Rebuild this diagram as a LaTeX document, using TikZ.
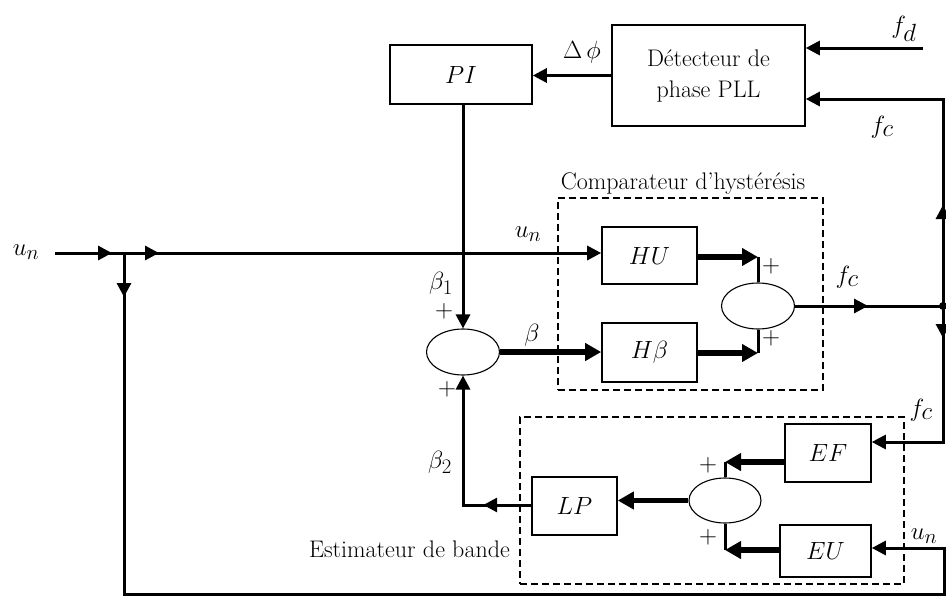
\documentclass[tikz,border=0pt]{standalone}
\usetikzlibrary{arrows.meta,shapes.geometric,decorations.markings}
\DeclareMathSizes{34}{34}{26}{20}
\DeclareMathSizes{28}{28}{22}{17}
\DeclareMathSizes{24}{24}{19}{14}
\begin{document}
\begin{tikzpicture}[x=1pt,y=-1pt,
  >={Triangle[length=14pt,width=14pt]},
  every node/.style={font=\fontsize{24}{31}\selectfont},
  box/.style={draw,line width=1.6pt,inner sep=2pt},
  sumnode/.style={ellipse,draw,line width=1.1pt,minimum width=73pt,minimum height=46pt,inner sep=0pt},
  grp/.style={draw,line width=1.2pt,dash pattern=on 7pt off 4pt,inner sep=0pt},
  sig/.style={line width=3pt},
  thk/.style={line width=5.5pt,-{Triangle[length=16pt,width=17pt]}},
  midarrow/.style={postaction={decorate},decoration={markings,
      mark=at position #1 with {\arrow{Triangle[length=14pt,width=14pt]}}}},
  twomid/.style 2 args={postaction={decorate},decoration={markings,
      mark=at position #1 with {\arrow{Triangle[length=14pt,width=14pt]}},
      mark=at position #2 with {\arrow{Triangle[length=14pt,width=14pt]}}}},
  lbl/.style={inner sep=1pt,font=\fontsize{28}{34}\selectfont},
  flbl/.style={inner sep=1pt,font=\fontsize{34}{40}\selectfont},
  txt/.style={inner sep=1pt}
]
\useasboundingbox (0,0) rectangle (946,597);

% group frames
\node[grp,minimum width=265pt,minimum height=192pt] (CMP) at (690.5,294) {};
\node[grp,minimum width=384pt,minimum height=167pt] (EST) at (712,500.5) {};

% blocks
\node[box,minimum width=142pt,minimum height=59pt] (PI) at (461,74.5) {$PI$};
\node[box,minimum width=193pt,minimum height=101pt,align=center] (PLL) at (708.5,75.5) {Détecteur de\\phase PLL};
\node[box,minimum width=95pt,minimum height=57pt] (HU) at (649.5,255.5) {$HU$};
\node[box,minimum width=95pt,minimum height=59pt] (HB) at (649.5,352.5) {$H\beta$};
\node[box,minimum width=85pt,minimum height=58pt] (LP) at (574.5,506) {$LP$};
\node[box,minimum width=86pt,minimum height=58pt] (EF) at (828,453) {$EF$};
\node[box,minimum width=91pt,minimum height=52pt] (EU) at (825.5,551) {$EU$};

% summing junctions
\node[sumnode] (S1) at (463,352) {};
\node[sumnode] (S2) at (758,306) {};
\node[sumnode,minimum width=72pt,minimum height=45pt] (S3) at (725,500.5) {};

% routing points
\coordinate (uin) at (55,253);
\coordinate (br) at (124,253);
\coordinate (bl) at (124,594);
\coordinate (brr) at (944,594);
\coordinate (eur) at (944,548);
\coordinate (fdin) at (923,48);
\coordinate (J) at (943,306);
\coordinate (bt) at (943,99);
\coordinate (bb) at (943,442);
\coordinate (c1) at (758,257);
\coordinate (c2) at (758,353);
\coordinate (c3) at (725,462);
\coordinate (c4) at (725,550);
\coordinate (c5) at (463,505);

% input u_n and its branch
\draw[sig,->,twomid={57pt}{104pt}] (uin) -- (uin -| HU.west);
\draw[sig,->,midarrow=44pt] (br) -- (bl) -- (brr) -- (eur) -- (eur -| EU.east);

% phase loop
\draw[sig,->] (fdin) -- (fdin -| PLL.east);
\draw[sig,->] (PLL.west) -- (PLL.west -| PI.east);
\draw[sig,->] (PI.south -| S1.north) -- (S1.north);

% hysteresis comparator
\draw[thk] (S1.east) -- (S1.east -| HB.west);
\draw[thk] (HU.east |- c1) -- (c1);
\draw[sig] (c1) -- (S2.north);
\draw[thk] (HB.east |- c2) -- (c2);
\draw[sig] (c2) -- (S2.south);
\draw[sig,midarrow=73pt] (S2.east) -- (J);
\fill (J) circle (4pt);

% f_c feedback bus
\draw[sig,->,midarrow=101pt] (J) -- (bt) -- (bt -| PLL.east);
\draw[sig,->,midarrow=32pt] (J) -- (bb) -- (bb -| EF.east);

% band estimator
\draw[thk] (EF.west |- c3) -- (c3);
\draw[sig] (c3) -- (S3.north);
\draw[thk] (EU.west |- c4) -- (c4);
\draw[sig] (c4) -- (S3.south);
\draw[thk] (S3.west) -- (S3.west -| LP.east);
\draw[sig,->,midarrow=48pt] (LP.west |- c5) -- (c5) -- (S1.south);

% labels
\node[lbl] (lun0) at (26,252) {$u_n$};
\node[lbl] (lun1) at (528,234) {$u_n$};
\node[lbl] (lbeta) at (532,335) {$\beta$};
\node[lbl] (lb1) at (441,283) {$\beta_1$};
\node[txt] (lp1) at (444,311) {$+$};
\node[txt] (lp2) at (447,389) {$+$};
\node[lbl] (lb2) at (440,462) {$\beta_2$};
\node[lbl] (ldphi) at (582,52) {$\Delta\,\phi$};
\node[flbl] (lfd) at (904,29) {$f_d$};
\node[flbl] (lfc1) at (882,127) {$f_c$};
\node[txt] (lcmp) at (683,184) {Comparateur d’hystérésis};
\node[flbl] (lfc2) at (847,277) {$f_c$};
\node[txt] (lp3) at (771,266) {$+$};
\node[txt] (lp4) at (771,338) {$+$};
\node[flbl] (lfc3) at (921,410) {$f_c$};
\node[txt] (lp5) at (708,465) {$+$};
\node[txt] (lp6) at (708,537) {$+$};
\node[lbl] (lun2) at (924,536) {$u_n$};
\node[txt,anchor=east] (lest) at (511,549) {Estimateur de bande};
\end{tikzpicture}
\end{document}
